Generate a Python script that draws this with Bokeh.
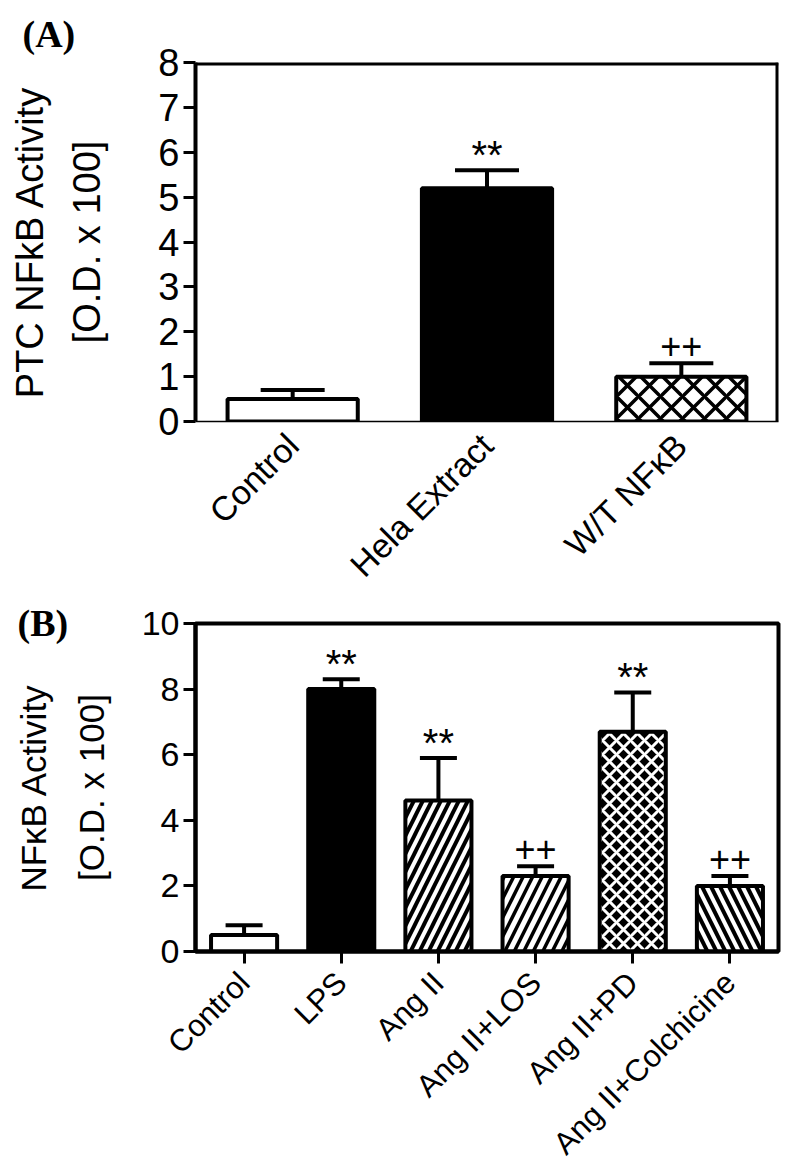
import math
from bokeh.plotting import figure
from bokeh.models import (ColumnDataSource, FactorRange, Range1d, Whisker, TeeHead,
                          Span, FixedTicker, LinearAxis)
from bokeh.layouts import column
from bokeh.embed import file_html
from bokeh.resources import INLINE
from bokeh.core.properties import value

# ---------------- data ----------------
cats_a = ["Control", "Hela Extract", "W/T NF\u03baB"]
means_a = [0.5, 5.2, 1.0]
errs_a = [0.2, 0.4, 0.3]
marks_a = ["", "**", "++"]
ticks_a = [0, 1, 2, 3, 4, 5, 6, 7, 8]
ylab_a = ["PTC NFkB Activity", "[O.D. x 100]"]

cats_b = ["Control", "LPS", "Ang II", "Ang II+LOS", "Ang II+PD", "Ang II+Colchicine"]
means_b = [0.5, 8.0, 4.6, 2.3, 6.7, 2.0]
errs_b = [0.3, 0.3, 1.3, 0.3, 1.2, 0.3]
marks_b = ["", "**", "**", "++", "**", "++"]
ticks_b = [0, 2, 4, 6, 8, 10]
ylab_b = ["NF\u03baB Activity", "[O.D. x 100]"]

# ---------------- styles ----------------
fill_a = ["white", "black", "white"]
hatch_a = [" ", " ", "x"]
hcol_a = ["black", "black", "black"]
hscale_a = [22, 22, 22]
hweight_a = [3.5, 3.5, 3.5]

fill_b = ["white", "black", "black", "white", "black", "black"]
hatch_b = [" ", " ", "/", "/", "x", "\\"]
hcol_b = ["black", "black", "white", "black", "white", "white"]
hscale_b = [18, 18, 18, 19, 14, 18]
hweight_b = [4, 4, 4, 3.5, 3, 4]

MARK_OFFSET = {"": 0, "**": -15, "++": -17}
MARK_SIZE = {"": "36px", "**": "40px", "++": "36px"}

FONT = "Liberation Sans"


def style_text_axis(ax, label, size, standoff):
    ax.axis_label = label
    ax.axis_label_text_font = FONT
    ax.axis_label_text_font_size = size
    ax.axis_label_text_font_style = "normal"
    ax.axis_label_text_color = "black"
    ax.axis_label_standoff = standoff


def make_panel(cats, means, errs, marks, ticks, fill, hatch, hcol, hscale, hweight,
               width, height, mb_left, mb_top, mb_bottom, bar_w, cap, ylab,
               tick_size, ylab_size, ylab_standoffs, xlab_size, xlab_standoff,
               panel_label, title_offset, title_standoff, thick_bottom):
    src = ColumnDataSource(dict(
        cat=cats, mean=means, upper=[m + e for m, e in zip(means, errs)],
        mark=marks, yoff=[MARK_OFFSET[m] for m in marks],
        msize=[MARK_SIZE[m] for m in marks],
        fill=fill, hatch=hatch, hcol=hcol, hscale=hscale, hweight=hweight))
    p = figure(x_range=FactorRange(factors=cats), y_range=Range1d(ticks[0], ticks[-1]),
               width=width, height=height, output_backend="svg", toolbar_location=None,
               min_border_left=mb_left, min_border_right=22, min_border_top=mb_top,
               min_border_bottom=mb_bottom, background_fill_color="white",
               border_fill_color="white")
    p.xgrid.visible = False
    p.ygrid.visible = False
    p.vbar(x="cat", top="mean", width=bar_w, source=src, fill_color="fill",
           line_color="black", line_width=4, hatch_pattern="hatch", hatch_color="hcol",
           hatch_scale="hscale", hatch_weight="hweight")
    w = Whisker(source=src, base="cat", upper="upper", lower="mean",
                line_color="black", line_width=4, lower_head=None,
                upper_head=TeeHead(size=cap, line_width=4, line_color="black"))
    w.level = "overlay"
    p.add_layout(w)
    p.text(x="cat", y="upper", text="mark", source=src, text_align="center",
           text_baseline="alphabetic", y_offset="yoff", text_font=value(FONT),
           text_font_size="msize", text_color="black")

    # inner left axis: ticks, tick labels and the second title line
    ax = p.yaxis[0]
    ax.ticker = FixedTicker(ticks=ticks)
    ax.axis_line_width = 4
    ax.axis_line_color = "black"
    ax.major_tick_line_width = 3
    ax.major_tick_out = 12
    ax.major_tick_in = 0
    ax.minor_tick_line_color = None
    ax.major_label_text_font = FONT
    ax.major_label_text_font_size = tick_size
    ax.major_label_text_color = "black"
    ax.major_label_standoff = 4
    style_text_axis(ax, ylab[1], ylab_size, ylab_standoffs[1])

    # outer left axis: only the first title line
    outer = LinearAxis(ticker=FixedTicker(ticks=[]), axis_line_color=None,
                       major_tick_line_color=None, minor_tick_line_color=None,
                       major_tick_out=0, minor_tick_out=0, major_tick_in=0,
                       minor_tick_in=0, major_label_text_font_size="0px",
                       major_label_standoff=0)
    style_text_axis(outer, ylab[0], ylab_size, ylab_standoffs[0])
    p.add_layout(outer, "left")

    xa = p.xaxis[0]
    xa.major_label_orientation = math.pi / 4
    xa.major_label_text_font = FONT
    xa.major_label_text_font_size = xlab_size
    xa.major_label_text_color = "black"
    xa.major_label_standoff = xlab_standoff
    if thick_bottom:
        xa.axis_line_width = 4
        xa.major_tick_line_width = 3
        xa.major_tick_out = 12
        xa.major_tick_in = 0
        p.outline_line_color = "black"
        p.outline_line_width = 4
        p.outline_line_alpha = 1
    else:
        xa.axis_line_width = 1.5
        xa.major_tick_line_color = None
        p.outline_line_color = None
        p.add_layout(Span(location=ticks[-1], dimension="width", line_color="black",
                          line_width=6))
        p.add_layout(Span(location=len(cats), dimension="height", line_color="black",
                          line_width=6))

    # panel letter as a left-aligned title shifted into the left border
    p.title.text = panel_label
    p.title.align = "left"
    p.title.vertical_align = "bottom"
    p.title.offset = title_offset
    p.title.standoff = title_standoff
    p.title.text_font = "Liberation Serif"
    p.title.text_font_style = "bold"
    p.title.text_font_size = "38px"
    p.title.text_color = "black"
    return p


pA = make_panel(cats_a, means_a, errs_a, marks_a, ticks_a, fill_a, hatch_a, hcol_a,
                hscale_a, hweight_a, 800, 600, 190, 62, 177, 0.67, 64, ylab_a,
                "38px", "38px", (13, 47), "34px", 12, "(A)", -173, 16, False)
pB = make_panel(cats_b, means_b, errs_b, marks_b, ticks_b, fill_b, hatch_b, hcol_b,
                hscale_b, hweight_b, 800, 576, 195, 23, 224, 0.68, 37, ylab_b,
                "34px", "35px", (16, 28), "31px", 14, "(B)", -178, -40, True)

layout = column(pA, pB)
open("out.html", "w").write(file_html(layout, INLINE))
